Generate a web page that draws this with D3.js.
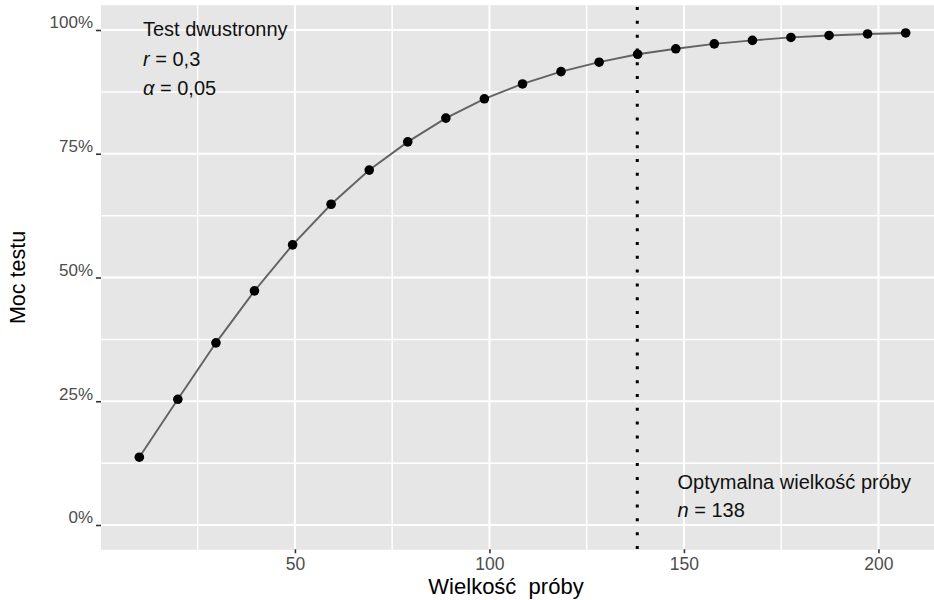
<!DOCTYPE html>
<html>
<head>
<meta charset="utf-8">
<script src="https://cdn.jsdelivr.net/npm/d3@7"></script>
<style>
  html, body { margin: 0; padding: 0; background: #ffffff; }
  svg { display: block; font-family: "Liberation Sans", Arial, Helvetica, sans-serif; }
</style>
</head>
<body>
<svg id="chart" width="934" height="600"></svg>
<script>
// Sample sizes and the power of a two-sided correlation test (r = 0.3, alpha = 0.05)
const sampleSize = [10, 19.9, 29.7, 39.6, 49.4, 59.3, 69.1, 79.0, 88.8, 98.7,
                    108.5, 118.4, 128.2, 138.1, 147.9, 157.8, 167.6, 177.5, 187.3, 197.2, 207];
const power = [0.137, 0.254, 0.368, 0.473, 0.566, 0.648, 0.717, 0.774, 0.822, 0.861,
               0.891, 0.916, 0.935, 0.951, 0.962, 0.972, 0.979, 0.985, 0.989, 0.992, 0.994];
const optimalN = 138;

const xTicks = [50, 100, 150, 200];
const xMinor = [25, 75, 125, 175];
const yTicks = [0, 0.25, 0.5, 0.75, 1];
const yMinor = [0.125, 0.375, 0.625, 0.875];
const yTickLabels = ["0%", "25%", "50%", "75%", "100%"];

const points = sampleSize.map((n, i) => ({ n, p: power[i] }));

const svg = d3.select("#chart");
const panel = { left: 101, right: 944, top: 5.25, bottom: 549.75 };

const x = d3.scaleLinear().domain([0.15, 216.85]).range([panel.left, panel.right]);
const y = d3.scaleLinear().domain([-0.05, 1.05]).range([panel.bottom, panel.top]);

// panel background
svg.append("rect")
  .attr("x", panel.left).attr("y", panel.top)
  .attr("width", panel.right - panel.left).attr("height", panel.bottom - panel.top)
  .attr("fill", "#e6e6e6");

const grid = svg.append("g");
// minor grid
grid.selectAll(".xminor").data(xMinor).join("line")
  .attr("x1", d => x(d)).attr("x2", d => x(d))
  .attr("y1", panel.top).attr("y2", panel.bottom)
  .attr("stroke", "#ffffff").attr("stroke-width", 1.5);
grid.selectAll(".yminor").data(yMinor).join("line")
  .attr("x1", panel.left).attr("x2", panel.right)
  .attr("y1", d => y(d)).attr("y2", d => y(d))
  .attr("stroke", "#ffffff").attr("stroke-width", 1.5);
// major grid
grid.selectAll(".xmajor").data(xTicks).join("line")
  .attr("x1", d => x(d)).attr("x2", d => x(d))
  .attr("y1", panel.top).attr("y2", panel.bottom)
  .attr("stroke", "#ffffff").attr("stroke-width", 2);
grid.selectAll(".ymajor").data(yTicks).join("line")
  .attr("x1", panel.left).attr("x2", panel.right)
  .attr("y1", d => y(d)).attr("y2", d => y(d))
  .attr("stroke", "#ffffff").attr("stroke-width", 2);

// axes
const xAxis = d3.axisBottom(x).tickValues(xTicks).tickSize(4).tickPadding(4)
  .tickFormat(d3.format("d"));
const gx = svg.append("g").attr("transform", `translate(0,${panel.bottom - 0.5})`).call(xAxis);
gx.select(".domain").remove();
gx.selectAll(".tick line").attr("stroke", "#333333").attr("stroke-width", 1.6);
gx.selectAll(".tick text").attr("fill", "#4d4d4d").style("font-size", "17.5px")
  .attr("dy", "0.75em");

const yAxis = d3.axisLeft(y).tickValues(yTicks).tickSize(5).tickPadding(3)
  .tickFormat((d, i) => yTickLabels[i]);
const gy = svg.append("g").attr("transform", `translate(${panel.left},0)`).call(yAxis);
gy.select(".domain").remove();
gy.selectAll(".tick line").attr("stroke", "#333333").attr("stroke-width", 1.6);
gy.selectAll(".tick text").attr("fill", "#4d4d4d").style("font-size", "17px")
  .attr("dy", "-0.12em");

// optimal sample size marker
svg.append("line")
  .attr("x1", x(optimalN)).attr("x2", x(optimalN))
  .attr("y1", panel.bottom - 0.75).attr("y2", panel.top)
  .attr("stroke", "#000000").attr("stroke-width", 3)
  .attr("stroke-dasharray", "3 10.82");

// power curve
const line = d3.line().x(d => x(d.n)).y(d => y(d.p));
svg.append("path").datum(points)
  .attr("d", line)
  .attr("fill", "none").attr("stroke", "#626262").attr("stroke-width", 1.9);

svg.append("g").selectAll("circle").data(points).join("circle")
  .attr("cx", d => x(d.n)).attr("cy", d => y(d.p)).attr("r", 4.8)
  .attr("fill", "#000000");

// annotations
const note = svg.append("g").style("font-size", "20px").attr("fill", "#111111");
note.append("text").attr("x", 143).attr("y", 36).text("Test dwustronny");
const t2 = note.append("text").attr("x", 143).attr("y", 65.5);
t2.append("tspan").style("font-style", "italic").text("r");
t2.append("tspan").text(" = 0,3");
const t3 = note.append("text").attr("x", 143).attr("y", 94.5);
t3.append("tspan").style("font-style", "italic").text("α");
t3.append("tspan").text(" = 0,05");

note.append("text").attr("x", 677.5).attr("y", 488.5).text("Optymalna wielkość próby");
const t5 = note.append("text").attr("x", 677.5).attr("y", 517);
t5.append("tspan").style("font-style", "italic").text("n");
t5.append("tspan").text(" = 138");

// axis titles
svg.append("text")
  .attr("x", 506).attr("y", 593.5)
  .attr("text-anchor", "middle").style("font-size", "22px").attr("fill", "#000000")
  .style("white-space", "pre").attr("xml:space", "preserve")
  .text("Wielkość  próby");

svg.append("text")
  .attr("transform", `translate(25,${(panel.top + panel.bottom) / 2}) rotate(-90)`)
  .attr("text-anchor", "middle").style("font-size", "21.5px").attr("fill", "#000000")
  .text("Moc testu");
</script>
</body>
</html>
